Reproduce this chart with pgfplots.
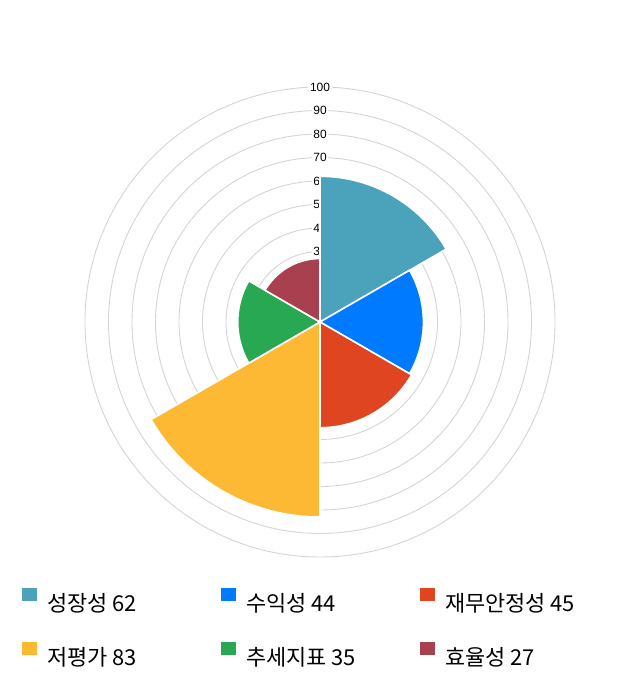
\documentclass[border=0pt]{standalone}
\usepackage{pgfplots}
\pgfplotsset{compat=1.18}
\usepgfplotslibrary{polar}
\usepackage{fontspec}
\setmainfont{Noto Sans CJK KR}
\newfontfamily\tickfont{Liberation Sans}

\definecolor{cGrowth}{HTML}{4AA3BA}
\definecolor{cProfit}{HTML}{007BFF}
\definecolor{cStable}{HTML}{E04522}
\definecolor{cValue}{HTML}{FDB933}
\definecolor{cTrend}{HTML}{28A852}
\definecolor{cEffic}{HTML}{A8404F}

\begin{document}
\begin{tikzpicture}[x=1bp,y=1bp]
\path[use as bounding box] (0,0) rectangle (640,700);
\begin{polaraxis}[
	at={(320bp,378bp)}, anchor=center,
	scale only axis, width=470bp, height=470bp,
	ymin=0, ymax=100,
	xtick=\empty,
	ytick={10,20,...,100},
	yticklabels=\empty,
	ymajorgrids, xmajorgrids=false,
	major grid style={draw=black!17, line width=0.9bp},
	axis line style={draw=none},
	major tick length=0pt,
	clip=false,
	legend columns=3,
	legend cell align=left,
	legend image code/.code={\fill[#1, draw=none] (0bp,-1bp) rectangle (15bp,12.5bp);},
	legend style={
		at={(-0.13404,-0.0649)}, anchor=north west,
		draw=none, fill=none, inner sep=0pt, outer sep=0pt,
		nodes={inner sep=0pt, outer sep=0pt},
		font=\fontsize{22}{24}\selectfont,
		row sep=28.5bp, column sep=0bp,
		/tikz/every odd column/.append style={column sep=10bp},
	},
]
% radial tick labels, under the sectors
\pgfplotsinvokeforeach{10,20,...,100}{
	\node[fill=white, inner sep=1.6bp, font=\tickfont\fontsize{12}{12}\selectfont] at (axis cs:90,#1) {#1};
}
% 성장성 62
\addplot[draw=white, line width=1.6bp, fill=cGrowth, domain=30:90, samples=61] ({x},{62}) -- (axis cs:0,0) -- cycle;
\addlegendentry{\raisebox{0pt}[24bp][6bp]{\makebox[174bp][l]{성장성 62}}}
% 수익성 44
\addplot[draw=white, line width=1.6bp, fill=cProfit, domain=-30:30, samples=61] ({x},{44}) -- (axis cs:0,0) -- cycle;
\addlegendentry{\raisebox{0pt}[24bp][6bp]{\makebox[174bp][l]{수익성 44}}}
% 재무안정성 45
\addplot[draw=white, line width=1.6bp, fill=cStable, domain=-90:-30, samples=61] ({x},{45}) -- (axis cs:0,0) -- cycle;
\addlegendentry{\raisebox{0pt}[24bp][6bp]{\makebox[174bp][l]{재무안정성 45}}}
% 저평가 83
\addplot[draw=white, line width=1.6bp, fill=cValue, domain=-150:-90, samples=61] ({x},{83}) -- (axis cs:0,0) -- cycle;
\addlegendentry{\raisebox{0pt}[24bp][6bp]{\makebox[174bp][l]{저평가 83}}}
% 추세지표 35
\addplot[draw=white, line width=1.6bp, fill=cTrend, domain=150:210, samples=61] ({x},{35}) -- (axis cs:0,0) -- cycle;
\addlegendentry{\raisebox{0pt}[24bp][6bp]{\makebox[174bp][l]{추세지표 35}}}
% 효율성 27
\addplot[draw=white, line width=1.6bp, fill=cEffic, domain=90:150, samples=61] ({x},{27}) -- (axis cs:0,0) -- cycle;
\addlegendentry{\raisebox{0pt}[24bp][6bp]{\makebox[174bp][l]{효율성 27}}}
\end{polaraxis}
\end{tikzpicture}
\end{document}
